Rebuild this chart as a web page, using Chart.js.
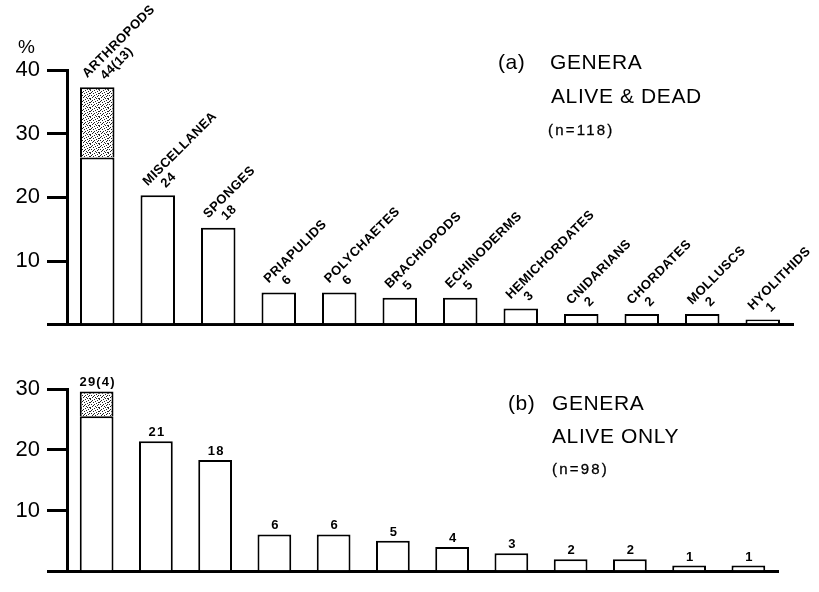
<!DOCTYPE html>
<html>
<head>
<meta charset="utf-8">
<title>Genera by group</title>
<script src="https://cdn.jsdelivr.net/npm/chart.js@4.4.1/dist/chart.umd.min.js"></script>
<style>
  html, body { margin: 0; padding: 0; background: #fff; }
  #wrap { position: relative; width: 819px; height: 592px; overflow: hidden;
          font-family: "Liberation Sans", Arial, Helvetica, sans-serif; color: #000; }
  .panel { position: absolute; left: 0; width: 819px; }
  #panelA { top: 0; height: 345px; }
  #panelB { top: 345px; height: 247px; }
  .t { position: absolute; white-space: pre; line-height: 1; }
  .big { font-size: 21px; letter-spacing: 0.6px; }
  .small { font-size: 15px; letter-spacing: 2.2px; -webkit-text-stroke: 0.3px #000; }
</style>
</head>
<body>
<div id="wrap">
  <div class="panel" id="panelA"><canvas id="chartA"></canvas></div>
  <div class="panel" id="panelB"><canvas id="chartB"></canvas></div>

  <div class="t" style="left:18px; top:37px; font-size:19px;">%</div>

  <div class="t big" style="left:498px; top:51px;">(a)</div>
  <div class="t big" style="left:550px; top:51px;">GENERA</div>
  <div class="t big" style="left:551px; top:85px;">ALIVE &amp; DEAD</div>
  <div class="t small" style="left:548px; top:122px;">(n=118)</div>

  <div class="t big" style="left:508px; top:392px;">(b)</div>
  <div class="t big" style="left:552px; top:392px;">GENERA</div>
  <div class="t big" style="left:552px; top:425px;">ALIVE ONLY</div>
  <div class="t small" style="left:552px; top:461px;">(n=98)</div>
</div>

<script>
// Groups, in order of decreasing number of genera
const phyla = ['ARTHROPODS', 'MISCELLANEA', 'SPONGES', 'PRIAPULIDS', 'POLYCHAETES',
               'BRACHIOPODS', 'ECHINODERMS', 'HEMICHORDATES', 'CNIDARIANS',
               'CHORDATES', 'MOLLUSCS', 'HYOLITHIDS'];

// (a) genera alive & dead
const generaAll    = [44, 24, 18, 6, 6, 5, 5, 3, 2, 2, 2, 1];
const stippledAll  = [13, 0, 0, 0, 0, 0, 0, 0, 0, 0, 0, 0];
const totalAll     = 118;
const ticksAll     = [0, 10, 20, 30, 40];

// (b) genera alive only
const generaAlive   = [29, 21, 18, 6, 6, 5, 4, 3, 2, 2, 1, 1];
const stippledAlive = [4, 0, 0, 0, 0, 0, 0, 0, 0, 0, 0, 0];
const totalAlive    = 98;
const ticksAlive    = [0, 10, 20, 30];

const FONT = '"Liberation Sans", Arial, Helvetica, sans-serif';
const pct = (n, total) => n / total * 100;

// fine dotted fill for the stippled part of a bar
function stipplePattern() {
  const c = document.createElement('canvas');
  c.width = 9; c.height = 9;
  const g = c.getContext('2d');
  g.fillStyle = '#fff';
  g.fillRect(0, 0, 9, 9);
  g.fillStyle = '#222';
  const dots = [[0,0],[4,0],[7,1],[2,1],[5,2],[0,3],[3,3],[8,3],[6,4],[1,5],
                [4,5],[7,6],[2,7],[5,7],[0,8],[8,8],[3,6],[6,8],[1,2],[8,5]];
  dots.forEach(([a, b]) => g.fillRect(a, b, 1, 1));
  return g.createPattern(c, 'repeat');
}
const stipple = stipplePattern();

function barDatasets(genera, stippled, total) {
  const common = {
    borderColor: '#000', borderWidth: 2, borderSkipped: 'bottom',
    barPercentage: 0.57, categoryPercentage: 1
  };
  return [
    Object.assign({ data: genera.map((g, i) => pct(g - stippled[i], total)),
                    backgroundColor: '#fff' }, common),
    Object.assign({ data: stippled.map(s => s > 0 ? pct(s, total) : null),
                    backgroundColor: stipple }, common)
  ];
}

function scaleOptions(tickValues) {
  return {
    x: {
      stacked: true,
      offset: true,
      grid: { display: false },
      ticks: { display: false },
      border: { display: true, color: '#000', width: 3 },
      afterFit: s => { s.height = 0; }
    },
    y: {
      stacked: true,
      min: tickValues[0],
      max: tickValues[tickValues.length - 1],
      afterBuildTicks: s => { s.ticks = tickValues.map(v => ({ value: v })); },
      grid: { display: true, drawOnChartArea: false, drawTicks: true,
              tickLength: 20, lineWidth: 3, color: '#000' },
      border: { display: true, color: '#000', width: 3 },
      ticks: { color: '#000', padding: 7, font: { family: FONT, size: 22 },
               callback: v => (v === 0 ? '' : String(v)) },
      afterFit: s => { s.width = 67; }
    }
  };
}

function drawRotated(ctx, text, x, y) {
  ctx.save();
  ctx.translate(x, y);
  ctx.rotate(-Math.PI / 4);
  ctx.fillText(text, 0, 0);
  ctx.restore();
}

const countText = (g, s) => (s > 0 ? `${g}(${s})` : String(g));

// slanted group names with genus counts above each bar of panel (a)
const slantedLabels = {
  id: 'slantedLabels',
  afterDatasetsDraw(chart) {
    const { ctx, scales: { x, y } } = chart;
    ctx.save();
    ctx.fillStyle = '#000';
    ctx.font = `bold 13px ${FONT}`;
    ctx.letterSpacing = '0.4px';
    ctx.textAlign = 'left';
    ctx.textBaseline = 'alphabetic';
    phyla.forEach((name, i) => {
      const cx = x.getPixelForValue(i);
      const top = y.getPixelForValue(pct(generaAll[i], totalAll));
      drawRotated(ctx, name, cx - 10, top - 9);
      drawRotated(ctx, countText(generaAll[i], stippledAll[i]), cx + 8, top - 7);
    });
    ctx.restore();
  }
};

// plain counts above each bar of panel (b)
const countLabels = {
  id: 'countLabels',
  afterDatasetsDraw(chart) {
    const { ctx, scales: { x, y } } = chart;
    ctx.save();
    ctx.fillStyle = '#000';
    ctx.font = `bold 13px ${FONT}`;
    ctx.letterSpacing = '1.2px';
    ctx.textAlign = 'center';
    ctx.textBaseline = 'alphabetic';
    generaAlive.forEach((g, i) => {
      const cx = x.getPixelForValue(i);
      const top = y.getPixelForValue(pct(g, totalAlive));
      ctx.fillText(countText(g, stippledAlive[i]), cx + 1, top - 5);
    });
    ctx.restore();
  }
};

const baseOptions = (padding, tickValues) => ({
  responsive: true,
  maintainAspectRatio: false,
  animation: false,
  layout: { padding },
  plugins: { legend: { display: false }, tooltip: { enabled: false } },
  scales: scaleOptions(tickValues)
});

new Chart(document.getElementById('chartA'), {
  type: 'bar',
  data: { labels: phyla, datasets: barDatasets(generaAll, stippledAll, totalAll) },
  options: baseOptions({ top: 70, right: 26, bottom: 9, left: 0 }, ticksAll),
  plugins: [slantedLabels]
});

new Chart(document.getElementById('chartB'), {
  type: 'bar',
  data: { labels: phyla, datasets: barDatasets(generaAlive, stippledAlive, totalAlive) },
  options: baseOptions({ top: 44, right: 41, bottom: 2, left: 0 }, ticksAlive),
  plugins: [countLabels]
});
</script>
</body>
</html>
